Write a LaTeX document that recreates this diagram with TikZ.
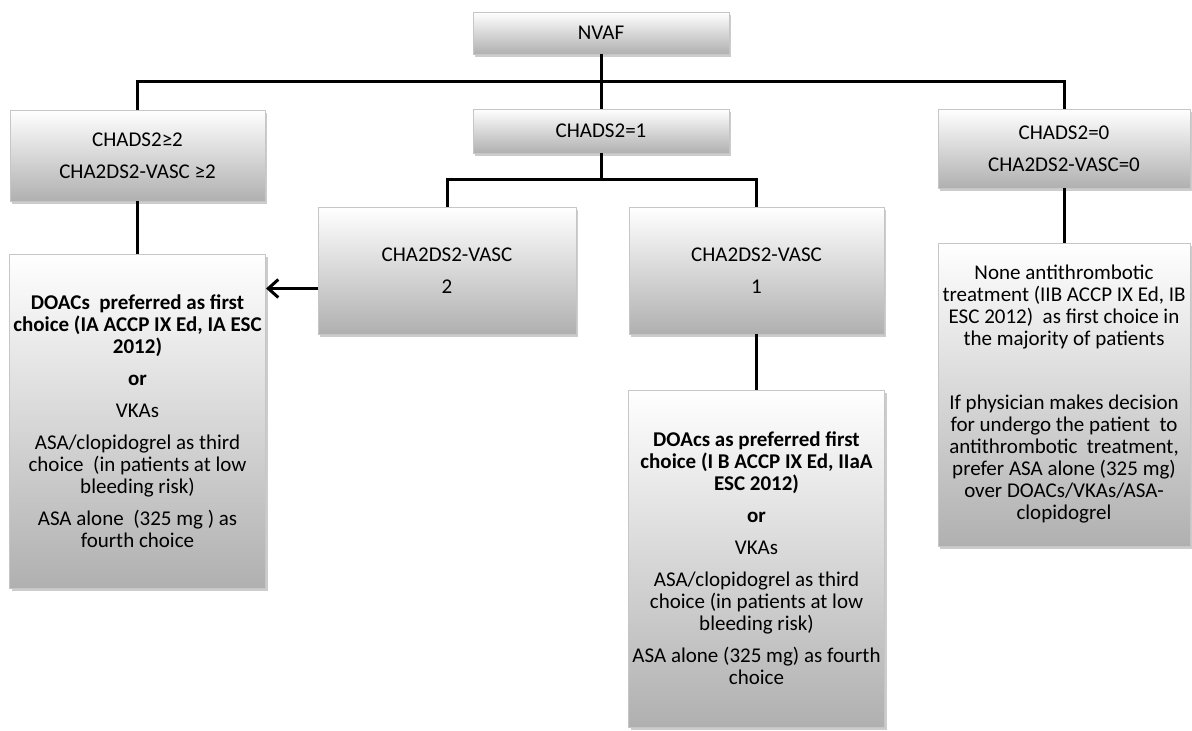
\documentclass[tikz,border=0pt]{standalone}
\usepackage{fontspec}
\setmainfont{Carlito}
\usetikzlibrary{shadows,calc,arrows.meta}

\tikzset{
  box/.style={draw=gray!45, thin, top color=white, bottom color=gray!62, align=center, inner sep=2pt,
    drop shadow={shadow xshift=1.2pt, shadow yshift=-1.5pt, opacity=0.4},
    font=\fontsize{10.5pt}{11pt}\selectfont},
  wh/.style 2 args={minimum width=#1*0.5pt, minimum height=#2*0.5pt},
  link/.style={line width=1.5pt, black},
}

\begin{document}
\begin{tikzpicture}[x=0.5pt,y=-0.5pt]
    \useasboundingbox (0,0) rectangle (1192,731);
    % first level
    \node[box,wh={256}{42}] (nvaf) at (601,33) {NVAF};
    \node[box,wh={255}{91}] (chadsH) at (137.5,155.5) {CHADS2≥2\\[5pt] CHA2DS2-VASC ≥2};
    \node[box,wh={256}{44}] (chads1) at (601,131) {CHADS2=1};
    \node[box,wh={252}{79}] (chadsZ) at (1064,148.5) {CHADS2=0\\[5pt] CHA2DS2-VASC=0};
    % second level
    \node[box,wh={258}{127}] (vasc2) at (447,270.5) {CHA2DS2-VASC\\[5pt] 2};
    \node[box,wh={255}{127}] (vasc1) at (756.5,270.5) {CHA2DS2-VASC\\[5pt] 1};
    % treatments
    \node[box,wh={255}{334}] (doacH) at (137.5,421) {\textbf{DOACs~ preferred as first}\\ \textbf{choice (IA ACCP IX Ed, IA ESC}\\ \textbf{2012)}\\[5pt] \textbf{or}\\[5pt] VKAs\\[5pt] ASA/clopidogrel as third\\ choice~ (in patients at low\\ bleeding risk)\\[5pt] ASA alone~ (325 mg ) as\\ fourth choice};
    \node[box,wh={255}{337}] (doac1) at (756.5,558.5) {\textbf{DOAcs as preferred first}\\ \textbf{choice (I B ACCP IX Ed, IIaA}\\ \textbf{ESC 2012)}\\[5pt] \textbf{or}\\[5pt] VKAs\\[5pt] ASA/clopidogrel as third\\ choice (in patients at low\\ bleeding risk)\\[5pt] ASA alone (325 mg) as fourth\\ choice};
    \node[box,wh={252}{303}] (none0) at (1064,394.5) {None antithrombotic\\ treatment (IIB ACCP IX Ed, IB\\ ESC 2012)~ as first choice in\\ the majority of patients\\[21pt] If physician makes decision\\ for undergo the patient~ to\\ antithrombotic~ treatment,\\ prefer ASA alone (325 mg)\\ over DOACs/VKAs/ASA-\\ clopidogrel};
    % connectors
    \coordinate (split) at ($(nvaf.south)!0.5!(chads1.north)$);
    \coordinate (split2) at ($(chads1.south)!0.5!(chads1.south |- vasc1.north)$);
    \draw[link] (nvaf.south) -- (chads1.north);
    \draw[link] (chadsH.north) |- (split) -| (chadsZ.north);
    \draw[link] (chads1.south) -- (split2);
    \draw[link] (vasc2.north) |- (split2) -| (vasc1.north);
    \foreach\a/\b in {chadsH/doacH,vasc1/doac1,chadsZ/none0}{
        \draw[link] (\a.south) -- (\b.north);
    }
    \draw[link,-{Straight Barb[length=5pt,width=9pt]}] ([yshift=-9pt]vasc2.west) -- ([yshift=-9pt]vasc2.west -| doacH.east);
\end{tikzpicture}
\end{document}
